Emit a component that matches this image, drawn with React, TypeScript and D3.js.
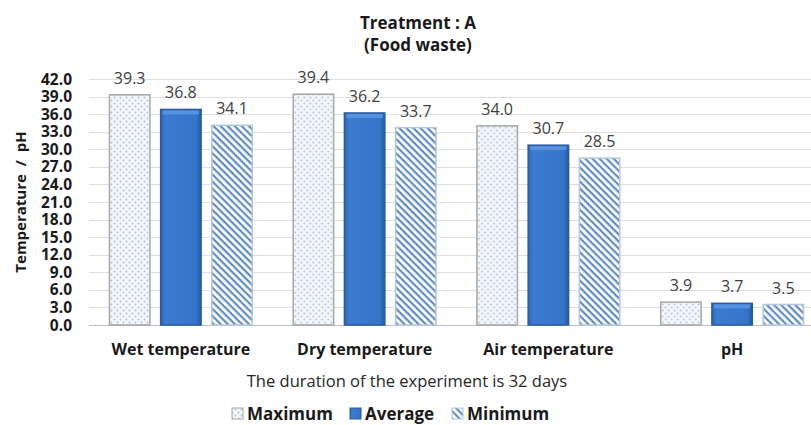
import React, { useRef, useEffect } from 'react';
import * as d3 from 'd3';

const categories = ['Wet temperature', 'Dry temperature', 'Air temperature', 'pH'];
const seriesNames = ['Maximum', 'Average', 'Minimum'];
const maximum = [39.3, 39.4, 34.0, 3.9];
const average = [36.8, 36.2, 30.7, 3.7];
const minimum = [34.1, 33.7, 28.5, 3.5];
const yTicks = [0, 3, 6, 9, 12, 15, 18, 21, 24, 27, 30, 33, 36, 39, 42];

const W = 811;
const H = 425;
const FONT = '"Open Sans", sans-serif';

const App: React.FC = () => {
  const ref = useRef<SVGSVGElement | null>(null);

  useEffect(() => {
    const svg = d3.select(ref.current);
    svg.selectAll('*').remove();

    const values = [maximum, average, minimum];
    const fills = ['url(#patMax)', 'url(#gradAvg)', 'url(#patMin)'];
    const strokes = ['#a6a6a6', '#2a5aa0', '#b4c8e0'];

    const defs = svg.append('defs');
    // dotted pattern for Maximum
    const pMax = defs.append('pattern')
      .attr('id', 'patMax')
      .attr('patternUnits', 'userSpaceOnUse')
      .attr('width', 6).attr('height', 6);
    pMax.append('rect').attr('width', 6).attr('height', 6).attr('fill', '#f3f7fc');
    pMax.append('circle').attr('cx', 1.5).attr('cy', 1.5).attr('r', 0.9).attr('fill', '#a9bfd9');
    pMax.append('circle').attr('cx', 4.5).attr('cy', 4.5).attr('r', 0.9).attr('fill', '#a9bfd9');

    // diagonal stripes for Minimum (top-left to bottom-right)
    const pMin = defs.append('pattern')
      .attr('id', 'patMin')
      .attr('patternUnits', 'userSpaceOnUse')
      .attr('width', 5).attr('height', 5)
      .attr('patternTransform', 'rotate(45)');
    pMin.append('rect').attr('width', 5).attr('height', 5).attr('fill', '#ffffff');
    pMin.append('rect').attr('width', 5).attr('height', 2.2).attr('fill', '#5f8dc6');

    // bevel-like gradient for Average
    const g1 = defs.append('linearGradient').attr('id', 'gradAvg')
      .attr('x1', 0).attr('x2', 1).attr('y1', 0).attr('y2', 0);
    g1.append('stop').attr('offset', '0%').attr('stop-color', '#2c66b8');
    g1.append('stop').attr('offset', '12%').attr('stop-color', '#3b7bd0');
    g1.append('stop').attr('offset', '88%').attr('stop-color', '#3574c9');
    g1.append('stop').attr('offset', '100%').attr('stop-color', '#25599f');

    const top = 79;
    const bottom = 325;
    const y = d3.scaleLinear().domain([0, 42]).range([bottom, top]);
    const x0 = d3.scaleBand<string>().domain(categories).range([89, 824]);
    const x1 = d3.scaleBand<string>().domain(seriesNames)
      .range([0, x0.bandwidth()])
      .paddingInner(0.21)
      .paddingOuter(0.4);

    // gridlines
    svg.append('g')
      .selectAll('line')
      .data(yTicks)
      .join('line')
      .attr('x1', 89).attr('x2', W)
      .attr('y1', (d) => Math.round(y(d)) + 0.5)
      .attr('y2', (d) => Math.round(y(d)) + 0.5)
      .attr('stroke', (d) => (d === 0 ? '#bfbfbf' : '#dedede'))
      .attr('stroke-width', 1);

    // y tick labels
    svg.append('g')
      .selectAll('text')
      .data(yTicks)
      .join('text')
      .attr('x', 72)
      .attr('y', (d) => y(d))
      .attr('dy', '0.36em')
      .attr('text-anchor', 'end')
      .style('font-family', FONT)
      .style('font-weight', 'bold')
      .style('font-size', '15.5px')
      .style('fill', '#1a1a1a')
      .text((d) => d.toFixed(1));

    // bars
    categories.forEach((cat, ci) => {
      const g = svg.append('g').attr('transform', `translate(${x0(cat)},0)`);
      seriesNames.forEach((s, si) => {
        const v = values[si][ci];
        const bx = x1(s)!;
        g.append('rect')
          .attr('x', bx)
          .attr('y', y(v))
          .attr('width', x1.bandwidth())
          .attr('height', bottom - y(v))
          .attr('fill', fills[si])
          .attr('stroke', strokes[si])
          .attr('stroke-width', 1.5);
        if (si === 1) {
          // top highlight for the bevel look
          g.append('rect')
            .attr('x', bx + 2)
            .attr('y', y(v) + 1)
            .attr('width', x1.bandwidth() - 4)
            .attr('height', 4)
            .attr('fill', '#5c98e3')
            .attr('opacity', 0.8);
        }
        g.append('text')
          .attr('x', bx + x1.bandwidth() / 2)
          .attr('y', y(v) - 11)
          .attr('text-anchor', 'middle')
          .style('font-family', FONT)
          .style('font-size', '16px')
          .style('fill', '#404040')
          .text(v.toFixed(1));
      });
    });

    // category labels
    svg.append('g')
      .selectAll('text')
      .data(categories)
      .join('text')
      .attr('x', (d) => x0(d)! + x0.bandwidth() / 2)
      .attr('y', 355)
      .attr('text-anchor', 'middle')
      .style('font-family', FONT)
      .style('font-weight', 'bold')
      .style('font-size', '16px')
      .style('fill', '#1a1a1a')
      .text((d) => d);

    // x axis title
    svg.append('text')
      .attr('x', 407)
      .attr('y', 387)
      .attr('text-anchor', 'middle')
      .style('font-family', FONT)
      .style('font-size', '16.5px')
      .style('fill', '#262626')
      .text('The duration of the experiment is 32 days');

    // y axis title
    svg.append('text')
      .attr('transform', 'translate(26,202) rotate(-90)')
      .attr('text-anchor', 'middle')
      .style('font-family', FONT)
      .style('font-weight', 'bold')
      .style('font-size', '15px')
      .style('fill', '#1a1a1a')
      .style('white-space', 'pre')
      .text('Temperature  /  pH');

    // chart title
    const title = svg.append('text')
      .attr('text-anchor', 'middle')
      .style('font-family', FONT)
      .style('font-weight', 'bold')
      .style('font-size', '17px')
      .style('fill', '#1a1a1a');
    title.append('tspan').attr('x', 418).attr('y', 29).text('Treatment : A');
    title.append('tspan').attr('x', 418).attr('y', 51).text('(Food waste)');

    // legend
    const legendX = [232, 350, 452];
    const legend = svg.append('g');
    seriesNames.forEach((s, si) => {
      legend.append('rect')
        .attr('x', legendX[si])
        .attr('y', 408)
        .attr('width', 11)
        .attr('height', 11)
        .attr('fill', fills[si])
        .attr('stroke', strokes[si])
        .attr('stroke-width', 1);
      legend.append('text')
        .attr('x', legendX[si] + 15)
        .attr('y', 420)
        .style('font-family', FONT)
        .style('font-weight', 'bold')
        .style('font-size', '17px')
        .style('fill', '#1a1a1a')
        .text(s);
    });
  }, []);

  return (
    <svg
      ref={ref}
      width={W}
      height={H}
      style={{ position: 'absolute', left: 0, top: 0, background: '#fff', overflow: 'hidden' }}
    />
  );
};

export default App;
